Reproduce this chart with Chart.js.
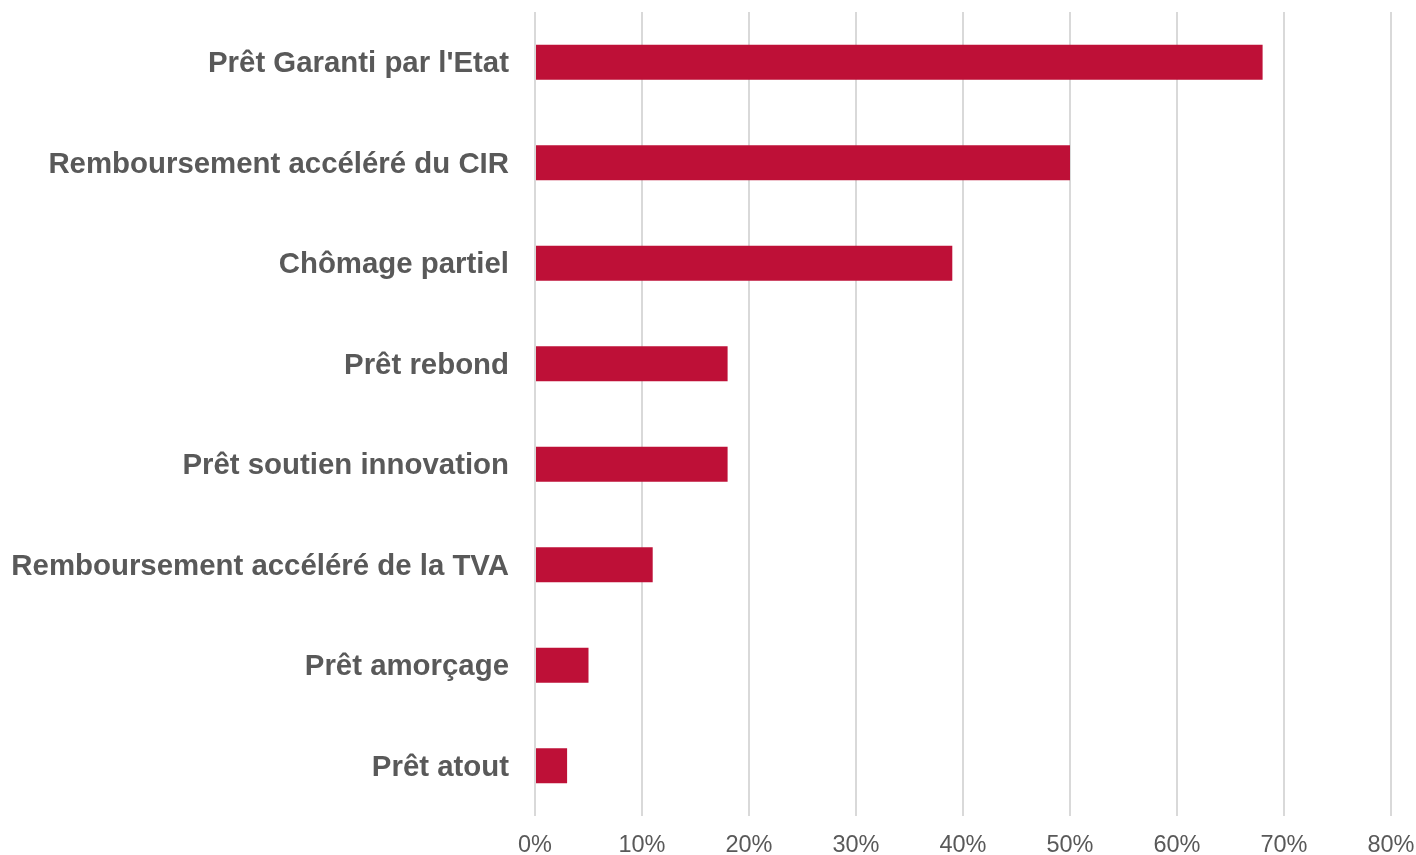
<!DOCTYPE html>
<html>
<head>
<meta charset="utf-8">
<script src="https://cdn.jsdelivr.net/npm/chart.js@4/dist/chart.umd.min.js"></script>
<style>
  html, body { margin: 0; padding: 0; background: #fff; }
  #wrap { width: 1416px; height: 855px; }
</style>
</head>
<body>
<div id="wrap"><canvas id="chart" width="1416" height="855"></canvas></div>
<script>
// Chart data
const categories = [
  "Prêt Garanti par l'Etat",
  'Remboursement accéléré du CIR',
  'Chômage partiel',
  'Prêt rebond',
  'Prêt soutien innovation',
  'Remboursement accéléré de la TVA',
  'Prêt amorçage',
  'Prêt atout'
];
const shares = [68, 50, 39, 18, 18, 11, 5, 3];
const xTicks = [0, 10, 20, 30, 40, 50, 60, 70, 80];

const barColor = '#BE1037';
const textColor = '#595959';
const fontFamily = '"Liberation Sans", Arial, sans-serif';

const ctx = document.getElementById('chart').getContext('2d');

new Chart(ctx, {
  type: 'bar',
  data: {
    labels: categories,
    datasets: [{
      data: shares,
      backgroundColor: barColor,
      borderWidth: 0,
      barPercentage: 0.35,
      categoryPercentage: 1
    }]
  },
  options: {
    indexAxis: 'y',
    responsive: false,
    animation: false,
    layout: {
      padding: { top: 12, right: 25, bottom: 0, left: 0 }
    },
    plugins: {
      legend: { display: false },
      tooltip: { enabled: false }
    },
    scales: {
      x: {
        min: 0,
        max: 80,
        afterBuildTicks: function(scale) {
          scale.ticks = xTicks.map(v => ({ value: v }));
        },
        afterFit: function(scale) {
          scale.height = 39;
          scale.paddingLeft = 0;
          scale.paddingRight = 0;
        },
        grid: {
          color: '#D9D9D9',
          lineWidth: 2,
          drawTicks: false
        },
        border: { display: false },
        ticks: {
          color: textColor,
          padding: 15,
          font: { family: fontFamily, size: 23.5 },
          callback: v => v + '%'
        }
      },
      y: {
        afterFit: function(scale) {
          scale.width = 535;
          scale.paddingTop = 0;
          scale.paddingBottom = 0;
        },
        grid: { display: false, drawTicks: false },
        border: { display: false },
        ticks: {
          color: textColor,
          padding: 26,
          labelOffset: 2,
          font: { family: fontFamily, size: 29.4, weight: 'bold' }
        }
      }
    }
  }
});
</script>
</body>
</html>
